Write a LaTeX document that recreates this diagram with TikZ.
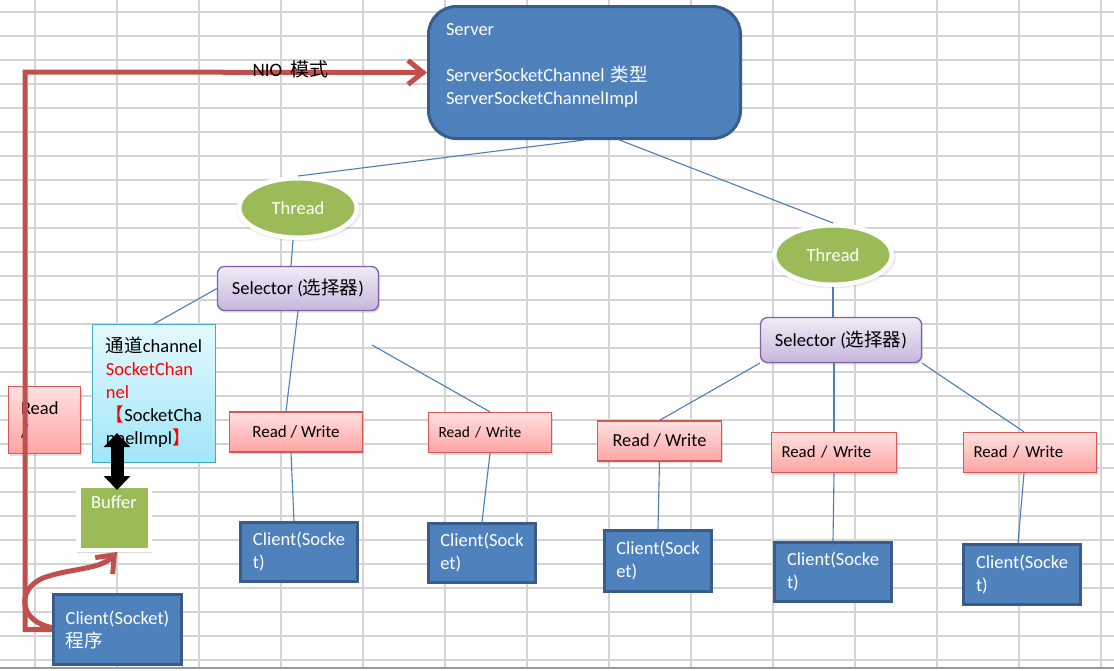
\documentclass[tikz,border=0pt]{standalone}
\usepackage{fontspec}
\usepackage{xcolor}
\usepackage{tikz}
\setmainfont{Carlito}
\newfontfamily\cjk{Noto Sans CJK SC}
\usetikzlibrary{arrows.meta,shapes.geometric,shadows,fadings,calc}

\definecolor{gridgray}{HTML}{D4D4D4}
\definecolor{linkblue}{HTML}{4A7EBB}
\definecolor{officeblue}{HTML}{4F81BD}
\definecolor{officenavy}{HTML}{385D8A}
\definecolor{officegreen}{HTML}{9BBB59}
\definecolor{officered}{HTML}{C0504D}
\definecolor{rwtop}{HTML}{FFE0E0}
\definecolor{rwbot}{HTML}{FFA4A4}
\definecolor{rwline}{HTML}{D95654}
\definecolor{seltop}{HTML}{F0ECF6}
\definecolor{selbot}{HTML}{C6B6DE}
\definecolor{selline}{HTML}{8064A2}
\definecolor{chantop}{HTML}{E4F9FE}
\definecolor{chanbot}{HTML}{A0E6F9}
\definecolor{chanline}{HTML}{46AAC5}

\begin{document}
\begin{tikzpicture}[x=1pt, y=-1pt, font=\fontsize{18.5}{23}\selectfont,
    gridline/.style={draw=gridgray, line width=1.2pt},
    link/.style={draw=linkblue, line width=1.1pt},
    redarrow/.style={draw=officered, line width=5pt, -{Straight Barb[length=15pt,width=24pt]}},
    softshadow/.style={drop shadow={opacity=0.25, shadow xshift=1.5pt, shadow yshift=-2pt}},
    server/.style={draw=officenavy, fill=officeblue, line width=3pt, rounded corners=28pt,
      text=white, align=left, inner xsep=17.5pt, inner ysep=0pt},
    thread/.style={ellipse, draw=white, fill=officegreen, line width=4.5pt, text=white,
      inner sep=0pt, minimum width=117.5pt, minimum height=59.5pt,
      circular drop shadow={shadow xshift=0.5pt, shadow yshift=-1.5pt, shadow scale=1.08, opacity=0.45}},
    selbox/.style={draw=selline, line width=1.3pt, rounded corners=7pt, top color=seltop,
      bottom color=selbot, minimum width=161pt, minimum height=44pt, inner sep=0pt, softshadow},
    rwbox/.style={draw=rwline, line width=1.3pt, top color=rwtop, bottom color=rwbot,
      minimum height=40pt, inner xsep=10pt, inner ysep=0pt, softshadow},
    chanbox/.style={draw=chanline, line width=1.2pt, top color=chantop, bottom color=chanbot,
      minimum width=123pt, minimum height=138pt, align=left, inner sep=0pt},
    bufbox/.style={draw=white, fill=officegreen, line width=4.5pt, text=white,
      minimum width=71.5pt, minimum height=64.5pt, inner sep=0pt,
      text height=13pt, text depth=32pt,
      drop shadow={opacity=0.3, shadow xshift=0.5pt, shadow yshift=-1.5pt, shadow scale=1.04}},
    client/.style={draw=officenavy, fill=officeblue, line width=3pt, text=white,
      align=left, inner sep=0pt},
  ]
  \def\gw{82}
  \def\gh{24}
  \fill[white] (0,0) rectangle (1114,670);
  \useasboundingbox (0,0) rectangle (1114,670);
  \foreach \k in {0,...,13}
    \draw[gridline] (35+\gw*\k,0) -- (35+\gw*\k,668);
  \foreach \k in {0,...,27}
    \draw[gridline] (0,12+\gh*\k) -- (1114,12+\gh*\k);
  \draw[line width=1.3pt, black!40] (0,668) -- (1114,668);

  \node[server, minimum width=312pt, minimum height=132pt, text width=277pt]
    (server) at (584.5,72.5)
    {Server\\~\\ServerSocketChannel {\cjk 类型}\\ServerSocketChannelImpl\\[-6pt]~};
  \node[thread] (thread1) at (298,208) {Thread};
  \node[thread] (thread2) at (833,255) {Thread};
  \node[selbox] (sel1) at (298,288.5) {Selector ({\cjk 选择器})};
  \node[selbox, minimum height=45pt] (sel2) at (841,340) {Selector ({\cjk 选择器})};

  \node[rwbox, minimum width=72pt, minimum height=67pt, text width=47pt,
    inner xsep=12.5pt, align=left] (rwleft) at (44.5,420) {Read\\/};
  \node[chanbox] (chan) at (154,393.5)
    {{\cjk 通道}channel\\
     \textcolor{red}{SocketChan}\\
     \textcolor{red}{nel}\\
     \textcolor{red}{\cjk 【}SocketCha\\
     nnelImpl\textcolor{red}{\cjk 】}\\[-17pt]~};
  \node[bufbox] (buffer) at (114,517.5) {Buffer};

  \node[rwbox, font=\fontsize{17}{20}\selectfont, minimum width=133pt]
    (rw1) at (296,432) {Read / Write};
  \node[rwbox, font=\fontsize{15.5}{20}\selectfont, minimum width=123pt,
    text width=103pt, align=left] (rw2) at (490,432.5) {Read / Write};
  \node[rwbox, font=\fontsize{18.3}{22}\selectfont, minimum width=124pt]
    (rw3) at (659.5,441) {Read / Write};
  \node[rwbox, font=\fontsize{16.8}{20}\selectfont, minimum width=125pt,
    text width=105pt, align=left] (rw4) at (834,452.5) {Read / Write};
  \node[rwbox, font=\fontsize{16.8}{20}\selectfont, minimum width=133pt,
    text width=113pt, align=left] (rw5) at (1030,452.5) {Read / Write};

  \node[client, minimum width=117pt, minimum height=59pt] (client1) at (299,552) {Client(Socke\\t)};
  \node[client, minimum width=107pt, minimum height=59pt] (client2) at (482,553) {Client(Sock\\et)};
  \node[client, minimum width=107pt, minimum height=61pt] (client3) at (658,561) {Client(Sock\\et)};
  \node[client, minimum width=117pt, minimum height=59pt] (client4) at (833,572) {Client(Socke\\t)};
  \node[client, minimum width=117pt, minimum height=60pt] (client5) at (1022,574.5) {Client(Socke\\t)};
  \node[client, minimum width=128pt, minimum height=70pt] (prog) at (117.5,629.5)
    {Client(Socket)\\{\cjk 程序}};

  \draw[link] (server.south) -- (thread1.north);
  \draw[link] ([xshift=35pt]server.south) -- (thread2.north);
  \draw[link] ([xshift=-5pt]thread1.south) -- ([xshift=-7pt]sel1.north);
  \draw[link] (thread2.south) -- (thread2.south |- sel2.north);
  \draw[link] (sel1.west) -- (chan.north);
  \draw[link] (sel1.south) -- ([xshift=-10pt]rw1.north);
  \coordinate (stray) at (372,345);
  \draw[link] (stray) -- (rw2.north);
  \draw[link] ([xshift=-5pt]rw1.south) -- ([xshift=-5pt]client1.north);
  \draw[link] (rw2.south) -- (client2.north);
  \draw[link] (sel2.south west) -- (rw3.north);
  \draw[link] (rw4.north |- sel2.south) -- (rw4.north);
  \draw[link] (sel2.south east) -- ([xshift=-6pt]rw5.north);
  \draw[link] (rw3.south) -- (client3.north);
  \draw[link] (rw4.south) -- (client4.north);
  \draw[link] ([xshift=-6pt]rw5.south) -- ([xshift=-4pt]client5.north);

  \draw[line width=13pt, {Triangle[width=26pt,length=14pt]}-{Triangle[width=26pt,length=14pt]}]
    ($(chan.south -| buffer.north)+(3,-30)$) -- ($(buffer.north)+(3,7)$);

  \coordinate (bend) at (25,72);
  \draw[redarrow] (prog.west) -| (bend) -- (server.west);
  \draw[redarrow] ([yshift=2pt]prog.west) .. controls (20,622) and (15,590) .. (43,578)
    .. controls (70,568) and (100,570) .. ([xshift=3pt]buffer.south);
  \node[anchor=base west, font=\fontsize{19}{23}\selectfont] (nio) at (249,76)
    {NIO\hspace{8pt}{\cjk 模式}};
\end{tikzpicture}
\end{document}
